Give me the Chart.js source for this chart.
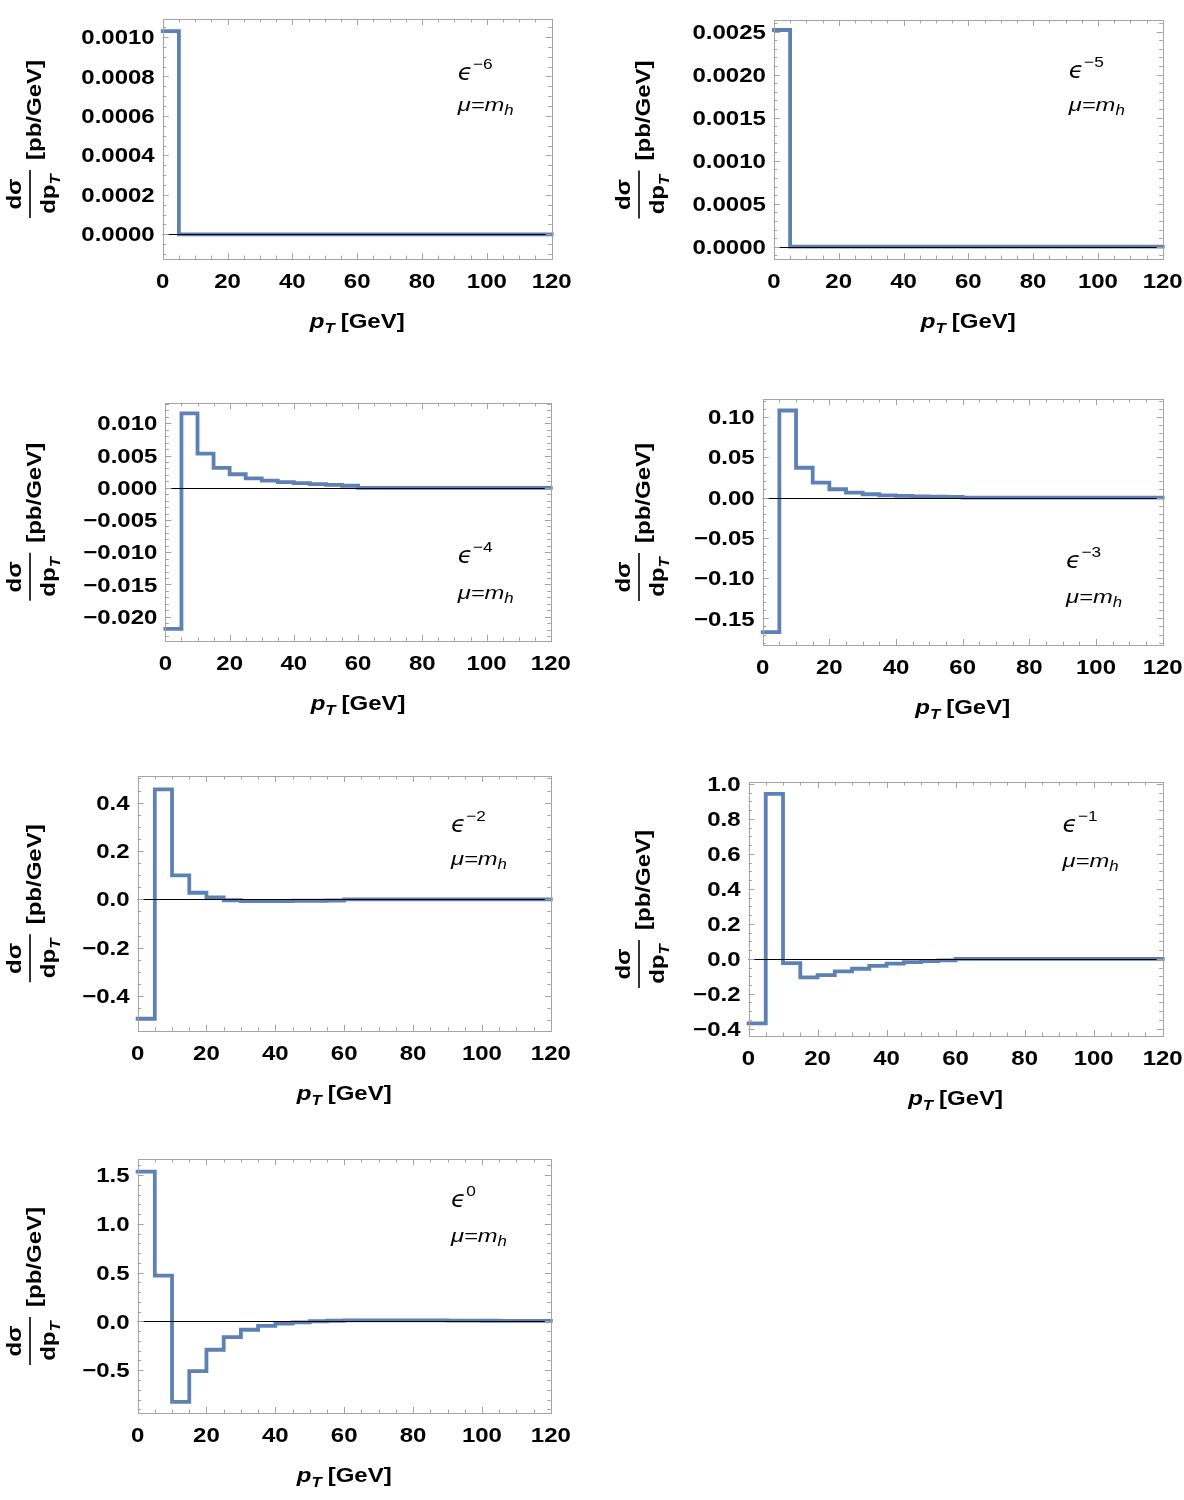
<!DOCTYPE html>
<html>
<head>
<meta charset="utf-8">
<script src="https://cdn.jsdelivr.net/npm/chart.js@4.4.1/dist/chart.umd.min.js"></script>
<style>
  body { margin: 0; background: #fff; width: 1184px; height: 1500px; position: relative; overflow: hidden; }
  canvas { position: absolute; }
</style>
</head>
<body>
<script>
// bin left edges (GeV), last bin closes at 120
const ptBins = [0, 5, 10, 15, 20, 25, 30, 35, 40, 45, 50, 55, 60, 65, 70, 75, 80, 85, 90, 95, 100, 105, 110, 115];
const ptEnd = 120;
const xTicks = [0, 20, 40, 60, 80, 100, 120];

// dsigma/dpT per bin for each eps order
const epsM6 = [0.00103, 0, 0, 0, 0, 0, 0, 0, 0, 0, 0, 0, 0, 0, 0, 0, 0, 0, 0, 0, 0, 0, 0, 0];
const epsM5 = [0.00252, 0, 0, 0, 0, 0, 0, 0, 0, 0, 0, 0, 0, 0, 0, 0, 0, 0, 0, 0, 0, 0, 0, 0];
const epsM4 = [-0.0219, 0.01155, 0.0053, 0.0031, 0.0021, 0.00145, 0.00112, 0.00088, 0.00072, 0.00057, 0.00046, 0.00032, 0, 0, 0, 0, 0, 0, 0, 0, 0, 0, 0, 0];
const epsM3 = [-0.167, 0.108, 0.037, 0.0186, 0.0103, 0.0062, 0.0041, 0.0028, 0.002, 0.0014, 0.001, 0.0007, 0, 0, 0, 0, 0, 0, 0, 0, 0, 0, 0, 0];
const epsM2 = [-0.494, 0.455, 0.099, 0.027, 0.008, -0.004, -0.007, -0.007, -0.007, -0.006, -0.006, -0.005, 0, 0, 0, 0, 0, 0, 0, 0, 0, 0, 0, 0];
const epsM1 = [-0.369, 0.944, -0.025, -0.106, -0.093, -0.072, -0.057, -0.041, -0.028, -0.019, -0.013, -0.009, 0, 0, 0, 0, 0, 0, 0, 0, 0, 0, 0, 0];
const eps0 = [1.535, 0.469, -0.824, -0.51, -0.29, -0.161, -0.085, -0.046, -0.023, -0.009, 0.002, 0.007, 0.01, 0.011, 0.011, 0.011, 0.01, 0.01, 0.009, 0.008, 0.007, 0.006, 0.005, 0.005];

// y tick labels
const yTicksM6 = [0, 0.0002, 0.0004, 0.0006, 0.0008, 0.0010];
const yTicksM5 = [0, 0.0005, 0.0010, 0.0015, 0.0020, 0.0025];
const yTicksM4 = [-0.020, -0.015, -0.010, -0.005, 0, 0.005, 0.010];
const yTicksM3 = [-0.15, -0.10, -0.05, 0, 0.05, 0.10];
const yTicksM2 = [-0.4, -0.2, 0, 0.2, 0.4];
const yTicksM1 = [-0.4, -0.2, 0, 0.2, 0.4, 0.6, 0.8, 1.0];
const yTicks0 = [-0.5, 0, 0.5, 1.0, 1.5];

const SX = 1.2;
const FONT = "'Liberation Sans', Arial, sans-serif";
const LINE = "#5E81B5";
const FRAME = "#a3a3a3";

var panels = [
  { vals: epsM6, ticks: yTicksM6, dec: 4, minor: 0.00005, ymin: -0.000125, ymax: 0.001091, pow: "\u22126", col: 0, box: [162.7, 19.3, 551.7, 259.3], eps: 0.253, mu: 0.385 },
  { vals: epsM5, ticks: yTicksM5, dec: 4, minor: 0.0001, ymin: -0.000143, ymax: 0.002636, pow: "\u22125", col: 1, box: [773.9, 20, 1162.7, 259], eps: 0.243, mu: 0.38 },
  { vals: epsM4, ticks: yTicksM4, dec: 3, minor: 0.001, ymin: -0.02373, ymax: 0.01316, pow: "\u22124", col: 0, box: [165.4, 403, 550.8, 640.7], eps: 0.673, mu: 0.825 },
  { vals: epsM3, ticks: yTicksM3, dec: 2, minor: 0.01, ymin: -0.183, ymax: 0.1223, pow: "\u22123", col: 1, box: [762.7, 399.3, 1162.7, 645.3], eps: 0.686, mu: 0.828 },
  { vals: epsM2, ticks: yTicksM2, dec: 1, minor: 0.05, ymin: -0.5435, ymax: 0.510, pow: "\u22122", col: 0, box: [137.6, 776, 550.8, 1030.7], eps: 0.22, mu: 0.35 },
  { vals: epsM1, ticks: yTicksM1, dec: 1, minor: 0.05, ymin: -0.4418, ymax: 1.0114, pow: "\u22121", col: 1, box: [748.5, 782, 1162.7, 1036], eps: 0.197, mu: 0.336 },
  { vals: eps0, ticks: yTicks0, dec: 1, minor: 0.1, ymin: -0.938, ymax: 1.664, pow: "0", col: 0, box: [137.6, 1158.7, 550.8, 1412.7], eps: 0.19, mu: 0.325 }
];

function drawTxt(ctx, s, x, y, font, align, sx) {
  ctx.save();
  ctx.translate(x, y);
  ctx.scale(sx || SX, 1);
  ctx.font = font;
  ctx.textAlign = align || "left";
  ctx.textBaseline = "alphabetic";
  ctx.fillStyle = "#000";
  ctx.fillText(s, 0, 0);
  ctx.restore();
}
function txtW(ctx, s, font, sx) {
  ctx.font = font;
  return ctx.measureText(s).width * (sx || SX);
}
// runs of text with offsets, starting at x
function drawRuns(ctx, runs, x, y) {
  runs.forEach(function (r) {
    drawTxt(ctx, r.s, x, y + (r.dy || 0), r.font, "left", r.sx);
    x += txtW(ctx, r.s, r.font, r.sx) + (r.gap || 0);
  });
}
function runsW(ctx, runs) {
  var w = 0;
  runs.forEach(function (r) { w += txtW(ctx, r.s, r.font, r.sx) + (r.gap || 0); });
  return w;
}
function fmt(v, dec) {
  var s = Math.abs(v) < 1e-12 ? (0).toFixed(dec) : v.toFixed(dec);
  return s.replace("-", "\u2212");
}

function makeDecor(p, canvasLeft) {
  return {
    id: "decor",
    afterDatasetsDraw: function (chart) {
      var ctx = chart.ctx, ca = chart.chartArea;
      var xs = chart.scales.x, ys = chart.scales.y;
      var l = ca.left, r = ca.right, t = ca.top, b = ca.bottom;
      var bold = "bold 20px " + FONT;
      var sub = "italic bold 14px " + FONT;

      // zero axis
      var y0 = Math.round(ys.getPixelForValue(0)) + 0.5;
      ctx.save();
      ctx.strokeStyle = "#000";
      ctx.lineWidth = 1;
      ctx.beginPath(); ctx.moveTo(l, y0); ctx.lineTo(r, y0); ctx.stroke();

      // frame
      ctx.strokeStyle = FRAME;
      ctx.strokeRect(Math.round(l) + 0.5, Math.round(t) + 0.5, Math.round(r) - Math.round(l), Math.round(b) - Math.round(t));

      // ticks, inward on all four sides
      ctx.beginPath();
      for (var xv = 0; xv <= ptEnd; xv += 5) {
        var len = xTicks.indexOf(xv) >= 0 ? 6 : 3.5;
        var px = Math.round(xs.getPixelForValue(xv)) + 0.5;
        ctx.moveTo(px, b); ctx.lineTo(px, b - len);
        ctx.moveTo(px, t); ctx.lineTo(px, t + len);
      }
      var k0 = Math.ceil(p.ymin / p.minor - 1e-6), k1 = Math.floor(p.ymax / p.minor + 1e-6);
      for (var k = k0; k <= k1; k++) {
        var v = k * p.minor;
        var major = p.ticks.some(function (tv) { return Math.abs(tv - v) < p.minor / 10; });
        var ln = major ? 6 : 3.5;
        var py = Math.round(ys.getPixelForValue(v)) + 0.5;
        ctx.moveTo(l, py); ctx.lineTo(l + ln, py);
        ctx.moveTo(r, py); ctx.lineTo(r - ln, py);
      }
      ctx.stroke();
      ctx.restore();

      // tick labels
      p.ticks.forEach(function (v) {
        drawTxt(ctx, fmt(v, p.dec), l - 8, ys.getPixelForValue(v) + 7.1, bold, "right");
      });
      xTicks.forEach(function (v) {
        drawTxt(ctx, String(v), xs.getPixelForValue(v), b + 29, bold, "center");
      });

      // x title
      var xt = [
        { s: "p", font: "italic bold 20px " + FONT },
        { s: "T", font: sub, dy: 5, gap: 6 },
        { s: "[GeV]", font: bold }
      ];
      drawRuns(ctx, xt, (l + r) / 2 - runsW(ctx, xt) / 2, b + 69);

      // y title (rotated fraction + unit)
      var ax = (p.col ? 609 : 0) - canvasLeft;
      ctx.save();
      ctx.translate(ax, (t + b) / 2);
      ctx.rotate(-Math.PI / 2);
      var num = [{ s: "d\u03c3", font: bold }];
      var den = [
        { s: "dp", font: bold },
        { s: "T", font: sub, dy: 5 }
      ];
      var fc = -55;
      drawRuns(ctx, num, fc - runsW(ctx, num) / 2, 21);
      drawRuns(ctx, den, fc - runsW(ctx, den) / 2, 55);
      ctx.strokeStyle = "#000";
      ctx.lineWidth = 1.6;
      ctx.beginPath(); ctx.moveTo(fc - 24, 30); ctx.lineTo(fc + 24, 30); ctx.stroke();
      drawTxt(ctx, "[pb/GeV]", -21, 41, bold, "left", 1.2);
      ctx.restore();

      // annotation
      var ex = xs.getPixelForValue(91);
      var ey = t + p.eps * (b - t);
      var my = t + p.mu * (b - t);
      var epsFont = "italic 23px 'DejaVu Sans', sans-serif";
      drawTxt(ctx, "\u03f5", ex, ey, epsFont, "left", 1.05);
      drawTxt(ctx, p.pow, ex + txtW(ctx, "\u03f5", epsFont, 1.05) + 0.5, ey - 11, "15px " + FONT, "left", 1.15);
      drawRuns(ctx, [
        { s: "\u03bc=m", font: "italic 19px " + FONT, sx: 1.25 },
        { s: "h", font: "italic 14px " + FONT, dy: 4, sx: 1.2 }
      ], ex, my);
    }
  };
}

panels.forEach(function (p) {
  var l = p.box[0], t = p.box[1], r = p.box[2], b = p.box[3];
  var colX = p.col ? 596 : 0;
  var colW = p.col ? 588 : 592;
  var top = t - 20;
  var h = (b - t) + 20 + 95;

  var cv = document.createElement("canvas");
  cv.width = colW;
  cv.height = Math.round(h);
  cv.style.left = colX + "px";
  cv.style.top = top + "px";
  cv.style.width = colW + "px";
  cv.style.height = Math.round(h) + "px";
  document.body.appendChild(cv);

  var pts = ptBins.map(function (x, i) { return { x: x, y: p.vals[i] }; });
  pts.push({ x: ptEnd, y: p.vals[p.vals.length - 1] });

  new Chart(cv.getContext("2d"), {
    type: "line",
    data: {
      datasets: [
        {
          data: pts,
          stepped: "before",
          borderColor: LINE,
          borderWidth: 3.8,
          borderCapStyle: "square",
          borderJoinStyle: "miter",
          pointRadius: 0,
          fill: false,
          clip: 6,
        },
      ],
    },
    options: {
      responsive: false,
      animation: false,
      events: [],
      layout: { padding: { left: l - colX, right: colX + colW - r, top: 20, bottom: Math.round(h) - 20 - (b - t) } },
      plugins: { legend: { display: false }, tooltip: { enabled: false } },
      scales: {
        x: { type: "linear", min: 0, max: ptEnd, display: false },
        y: { type: "linear", min: p.ymin, max: p.ymax, display: false },
      },
    },
    plugins: [makeDecor(p, colX)],
  });
});
</script>
</body>
</html>
